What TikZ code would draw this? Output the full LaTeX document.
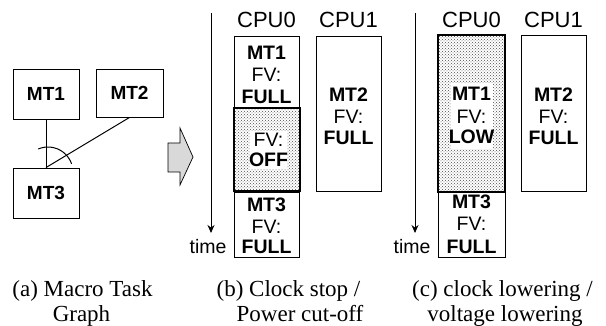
\documentclass[tikz,border=0pt]{standalone}
\usepackage{fontspec}
\setmainfont{Liberation Serif}
\setsansfont{Liberation Sans}
\usetikzlibrary{arrows.meta,patterns}
\begin{document}
\begin{tikzpicture}[x=1pt,y=-1pt,
  every node/.style={inner sep=0pt},
  gbox/.style={draw, line width=0.9pt, minimum width=66pt, minimum height=50pt,
    font=\sffamily\bfseries\fontsize{19}{22}\selectfont},
  sec/.style={draw, line width=0.9pt},
  hot/.style={draw, line width=2.6pt, pattern=crosshatch dots, pattern color=black!70},
  txt/.style={font=\sffamily\fontsize{19.5}{22}\selectfont, anchor=base, inner sep=1pt},
  btxt/.style={txt, font=\sffamily\bfseries\fontsize{19.5}{22}\selectfont},
  wbg/.style={fill=white, draw=none},
  cpu/.style={font=\sffamily\fontsize{22}{24}\selectfont, anchor=base},
  captxt/.style={font=\rmfamily\fontsize{23}{24}\selectfont, anchor=base},
  tarrow/.style={line width=1pt, -{Stealth[length=8pt,width=7pt]}},
  link/.style={line width=1pt}
]
\useasboundingbox (0,0) rectangle (606,326);

% ---------- (a) macro task graph ----------
\node[gbox] (mt1) at (46,94) {MT1};
\node[gbox, minimum width=67pt, minimum height=48pt] (mt2) at (129.5,93) {MT2};
\node[gbox] (mt3) at (46,193) {MT3};
\draw[link] (mt1.south) -- (mt3.north);
\draw[link] (mt2.south) -- (mt3.north);
\coordinate (arcA) at (38.2,149);
\draw[link] (arcA) arc[start angle=-113, end angle=-19, radius=25];

% gray transformation arrow
\draw[line width=0.7pt, fill=black!15]
  (168,143) -- (180,143) -- (180,128) -- (193,157) -- (180,185)
  -- (180,172) -- (168,172) -- cycle;

% ---------- (b) clock stop / power cut-off ----------
\coordinate (bt0) at (211,13);
\coordinate (bt1) at (211,233);
\draw[tarrow] (bt0) -- (bt1);
\node[txt] (btime) at (208,254) {time};
\node[cpu] (bcpu0) at (266.5,28) {CPU0};
\node[cpu] (bcpu1) at (348.5,28) {CPU1};

\node[sec, minimum width=65pt, minimum height=72pt] (bs1) at (266.5,72) {};
\node[sec, minimum width=65pt, minimum height=65pt] (bs3) at (266.5,224.5) {};
\node[hot, minimum width=66pt, minimum height=83pt] (bs2) at (267,149.5) {};
\node[wbg, minimum width=37pt, minimum height=38pt] (bw) at (268.5,150) {};
\node[sec, minimum width=65pt, minimum height=155pt] (bc1) at (348.5,113.5) {};

\node[btxt] (b1a) at (266.5,60) {MT1};
\node[txt]  (b1b) at (266.5,82) {FV:};
\node[btxt] (b1c) at (266.5,104) {FULL};
\node[txt]  (b2b) at (268.5,147) {FV:};
\node[btxt] (b2c) at (268.5,167) {OFF};
\node[btxt] (b3a) at (266.5,212) {MT3};
\node[txt]  (b3b) at (266.5,234) {FV:};
\node[btxt] (b3c) at (266.5,254) {FULL};
\node[btxt] (b4a) at (348.5,102) {MT2};
\node[txt]  (b4b) at (348.5,124) {FV:};
\node[btxt] (b4c) at (348.5,145) {FULL};

% ---------- (c) clock lowering / voltage lowering ----------
\coordinate (ct0) at (415,13);
\coordinate (ct1) at (415,233);
\draw[tarrow] (ct0) -- (ct1);
\node[txt] (ctime) at (412,254) {time};
\node[cpu] (ccpu0) at (471.5,28) {CPU0};
\node[cpu] (ccpu1) at (553.5,28) {CPU1};

\node[sec, minimum width=67pt, minimum height=65pt] (cs3) at (471.5,224.5) {};
\node[hot, minimum width=67pt, minimum height=157pt] (cs1) at (471.5,113.5) {};
\node[wbg, minimum width=42pt, minimum height=66pt] (cw) at (472,116) {};
\node[sec, minimum width=65pt, minimum height=156pt] (cc1) at (553.5,113) {};

\node[btxt] (c1a) at (471.5,101) {MT1};
\node[txt]  (c1b) at (471.5,124) {FV:};
\node[btxt] (c1c) at (471.5,144) {LOW};
\node[btxt] (c3a) at (471.5,209) {MT3};
\node[txt]  (c3b) at (471.5,231) {FV:};
\node[btxt] (c3c) at (471.5,254) {FULL};
\node[btxt] (c4a) at (553.5,102) {MT2};
\node[txt]  (c4b) at (553.5,124) {FV:};
\node[btxt] (c4c) at (553.5,145) {FULL};

% ---------- captions ----------
\node[captxt] (capa1) at (82.5,297) {(a) Macro Task};
\node[captxt] (capa2) at (81.5,321) {Graph};
\node[captxt] (capb1) at (288.5,297) {(b) Clock stop /};
\node[captxt] (capb2) at (300,321) {Power cut-off};
\node[captxt] (capc1) at (502.5,297) {(c) clock lowering /};
\node[captxt] (capc2) at (505,321) {voltage lowering};
\end{tikzpicture}
\end{document}
